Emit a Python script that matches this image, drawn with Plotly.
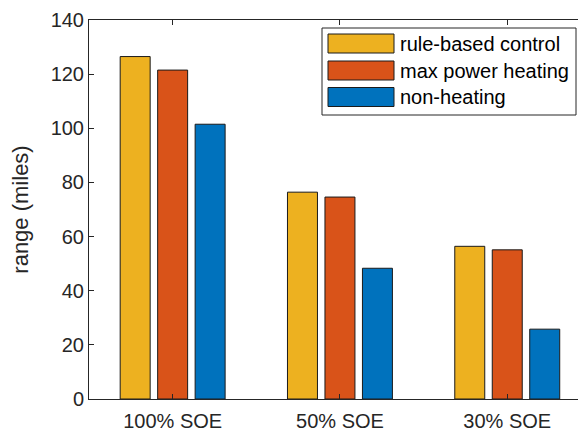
import plotly.graph_objects as go

categories = ["100% SOE", "50% SOE", "30% SOE"]
series_names = ["rule-based control", "max power heating", "non-heating"]
s_rule = [126.5, 76.4, 56.4]
s_max = [121.5, 74.6, 55.1]
s_non = [101.5, 48.3, 25.8]
y_ticks = [0, 20, 40, 60, 80, 100, 120, 140]
colors = ["#EDB120", "#D95319", "#0072BD"]

W, H = 578, 431
L, T, B = 89, 20, 32
PW, PH = W - L, H - T - B

fig = go.Figure()
for name, vals, c in zip(series_names, [s_rule, s_max, s_non], colors):
    fig.add_trace(go.Bar(x=categories, y=vals, name=name,
                         marker=dict(color=c, line=dict(color="#1a1a1a", width=1)),
                         showlegend=False, hoverinfo="skip"))

def px(x):
    return (x - L) / PW

def py(y):
    return (H - B - y) / PH

shapes = []
annotations = []
shapes.append(dict(type="rect", xref="paper", yref="paper", x0=px(322), x1=px(576), y0=py(115), y1=py(28),
                   line=dict(color="#262626", width=1), fillcolor="white", layer="above"))
row_c = [43.5, 70.5, 97.0]
for i, (name, c) in enumerate(zip(series_names, colors)):
    yc = row_c[i]
    shapes.append(dict(type="rect", xref="paper", yref="paper", x0=px(328), x1=px(394),
                       y0=py(yc + 9.5), y1=py(yc - 9.5),
                       line=dict(color="#1a1a1a", width=1), fillcolor=c, layer="above"))
    annotations.append(dict(xref="paper", yref="paper", x=px(398), y=py(yc), text=name, showarrow=False,
                            xanchor="left", yanchor="middle", font=dict(size=20, color="#000000")))

fig.update_layout(
    width=W, height=H,
    margin=dict(l=L, r=0, t=T, b=B, pad=0, autoexpand=False),
    paper_bgcolor="white", plot_bgcolor="white",
    barmode="group", bargap=0.328, bargroupgap=0.2,
    font=dict(family="Liberation Sans, Arial", size=20, color="#262626"),
    shapes=shapes, annotations=annotations,
    xaxis=dict(range=[-0.5, -0.5 + PW / 167.3], showline=True, linecolor="#262626", linewidth=1, mirror="ticks",
               ticks="inside", ticklen=5, tickcolor="#262626", showgrid=False, zeroline=False, automargin=False,
               tickfont=dict(size=20, color="#262626"), ticklabelstandoff=4),
    yaxis=dict(range=[0, 140], tickvals=y_ticks, showline=True, linecolor="#262626", linewidth=1, mirror=False,
               ticks="inside", ticklen=5, tickcolor="#262626", showgrid=False, zeroline=False, automargin=False,
               tickfont=dict(size=20, color="#262626"),
               title=dict(text="range (miles)", font=dict(size=22, color="#262626"), standoff=15)),
)

fig.write_html("out.html", config={"displayModeBar": False},
               post_script="document.body.style.margin='0px';document.body.style.overflow='hidden';")
